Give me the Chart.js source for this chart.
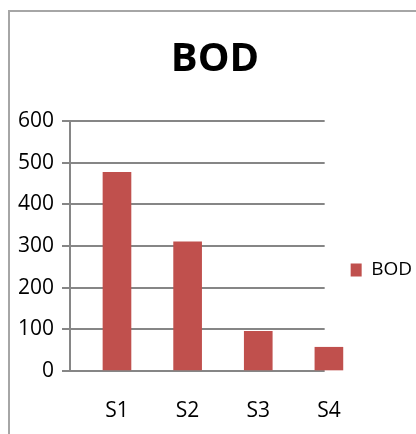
<!DOCTYPE html>
<html>
<head>
<meta charset="utf-8">
<script src="https://cdn.jsdelivr.net/npm/chart.js@4"></script>
<style>
  html, body { margin: 0; padding: 0; background: #fff; }
  #wrap { position: relative; width: 416px; height: 434px; }
  #frame {
    position: absolute; left: 8px; top: 10px; right: 0; bottom: 0;
    border-top: 2px solid #a6a6a6; border-left: 2px solid #a6a6a6;
  }
  canvas { position: absolute; left: 0; top: 0; }
</style>
</head>
<body>
<div id="wrap">
  <div id="frame"></div>
  <canvas id="bod-chart" width="416" height="434"></canvas>
</div>
<script>
// ---- data ----
const categories = ["S1", "S2", "S3", "S4"];
const positions  = [1, 2, 3, 4];
const bodValues  = [477, 310, 95, 57];
const yTicks     = [0, 100, 200, 300, 400, 500, 600];

const FONT = "'Open Sans', 'Noto Sans', sans-serif";
const GRID = "#868686";

const points = positions.map((p, i) => ({ x: p, y: bodValues[i] }));

new Chart(document.getElementById("bod-chart"), {
  type: "bar",
  data: {
    datasets: [{
      label: "BOD",
      data: points,
      backgroundColor: "#C0504D",
      borderWidth: 0,
      barThickness: 28,
      clip: false,
    }],
  },
  options: {
    responsive: false,
    animation: false,
    layout: { padding: { left: 8, right: -6, top: 0, bottom: 11 } },
    plugins: {
      title: {
        display: true,
        text: "BOD",
        color: "#000",
        font: { family: FONT, size: 40, weight: "bold" },
        padding: { top: 36, bottom: 37 },
      },
      legend: {
        position: "right",
        title: {
          display: true,
          text: " ",
          font: { size: 10 },
          padding: { top: 105, bottom: 0 },
        },
        labels: {
          color: "#000",
          font: { family: FONT, size: 19 },
          boxWidth: 11,
          boxHeight: 13,
          padding: 26,
        },
      },
      tooltip: { enabled: false },
    },
    scales: {
      x: {
        type: "linear",
        min: 0.335,
        max: 3.94,
        offset: false,
        grid: { display: false, drawTicks: false, offset: false },
        border: { display: false },
        afterBuildTicks: (scale) => {
          scale.ticks = positions.map(v => ({ value: v }));
        },
        afterFit: (scale) => { scale.height = 52; },
        ticks: {
          color: "#000",
          font: { family: FONT, size: 21 },
          padding: 27,
          maxRotation: 0,
          autoSkip: false,
          callback: (v) => categories[positions.indexOf(v)] || "",
        },
      },
      y: {
        min: 0,
        max: 600,
        afterBuildTicks: (scale) => {
          scale.ticks = yTicks.map(v => ({ value: v }));
        },
        afterFit: (scale) => { scale.width = 62; },
        grid: { color: GRID, lineWidth: 2, tickLength: 8 },
        border: { display: true, color: GRID, width: 2 },
        ticks: {
          color: "#000",
          font: { family: FONT, size: 21 },
          padding: 8,
        },
      },
    },
  },
});
</script>
</body>
</html>
